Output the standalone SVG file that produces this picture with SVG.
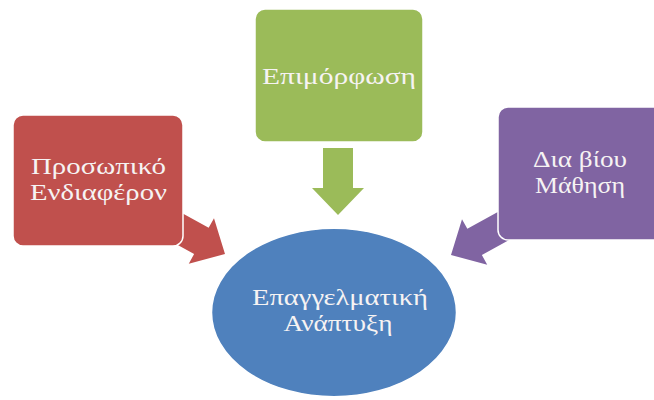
<svg xmlns="http://www.w3.org/2000/svg" width="654" height="400" viewBox="0 0 654 400">
<defs>
<style>
.lbl{font-family:"Liberation Serif","DejaVu Serif",serif;font-size:24px;fill:#f6f3f3;text-anchor:middle}
.box{stroke:#ffffff;stroke-width:1.5}
</style>
<path id="arr" d="M0,0 L-27,-26 L-27,-15 L-67,-15 L-67,15 L-27,15 L-27,26 Z"/>
</defs>
<rect width="654" height="400" fill="#ffffff"/>
<g id="connectors">
<use href="#arr" fill="#C0504D" transform="translate(225,254) rotate(29)"/>
<use href="#arr" fill="#9BBB59" transform="translate(338,215) rotate(90)"/>
<use href="#arr" fill="#8064A2" transform="translate(451,255) rotate(151)"/>
</g>
<g id="node-prosopiko">
<rect class="box" x="13" y="115" width="170" height="131" rx="10" fill="#C0504D"/>
<text class="lbl" x="98.5" y="174" textLength="135" lengthAdjust="spacingAndGlyphs">Προσωπικό</text>
<text class="lbl" x="98.5" y="200" textLength="137" lengthAdjust="spacingAndGlyphs">Ενδιαφέρον</text>
</g>
<g id="node-epimorfosi">
<rect class="box" x="255" y="9" width="168" height="133" rx="10" fill="#9BBB59"/>
<text class="lbl" x="339" y="84" textLength="154" lengthAdjust="spacingAndGlyphs">Επιμόρφωση</text>
</g>
<g id="node-dia-biou">
<rect class="box" x="498" y="107" width="170" height="133" rx="10" fill="#8064A2"/>
<text class="lbl" x="580" y="167" textLength="94" lengthAdjust="spacingAndGlyphs">Δια βίου</text>
<text class="lbl" x="580" y="193" textLength="90" lengthAdjust="spacingAndGlyphs">Μάθηση</text>
</g>
<g id="node-anaptyxi">
<ellipse class="box" cx="334" cy="312.5" rx="122.5" ry="84.2" fill="#4F81BD"/>
<text class="lbl" x="340" y="305" textLength="176" lengthAdjust="spacingAndGlyphs">Επαγγελματική</text>
<text class="lbl" x="338" y="331" textLength="109" lengthAdjust="spacingAndGlyphs">Ανάπτυξη</text>
</g>
</svg>
